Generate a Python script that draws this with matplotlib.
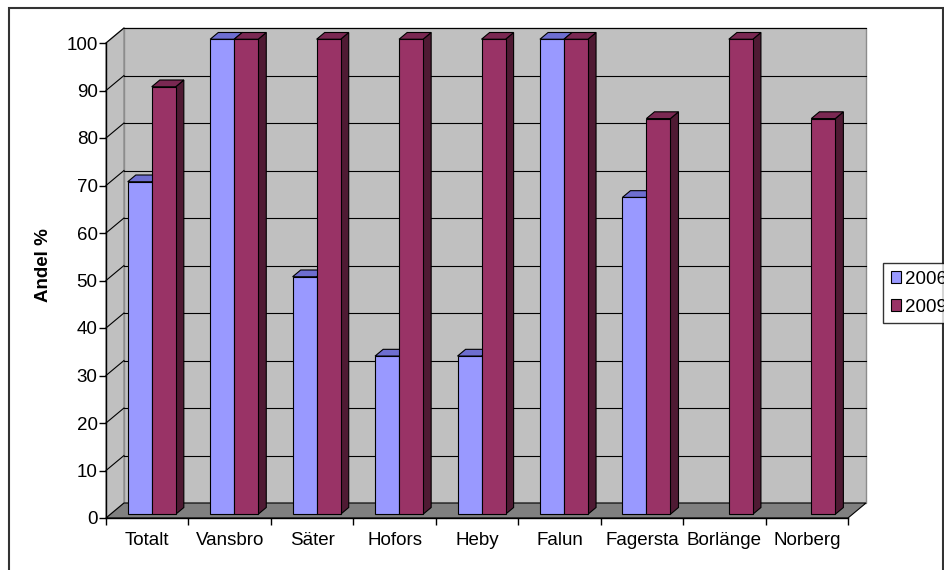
"""
Andel % per kommun, 2006 och 2009 -- Excel-style 3D column chart.
"""

import matplotlib.pyplot as plt
import numpy as np
from matplotlib.patches import Polygon, Rectangle, Patch

plt.rcParams["font.family"] = ["Liberation Sans", "DejaVu Sans"]

categories = ["Totalt", "Vansbro", "Säter", "Hofors", "Heby",
              "Falun", "Fagersta", "Borlänge", "Norberg"]
years = ["2006", "2009"]
values_2006 = [70, 100, 50, 33.3, 33.3, 100, 66.7, None, None]
values_2009 = [90, 100, 100, 100, 100, 100, 83.3, 100, 83.3]

face_cols = ["#9999FF", "#993366"]
top_cols = ["#6E6ED0", "#7A2852"]
side_cols = ["#5C5CA8", "#4F1A33"]

W, H = 944, 570
fig = plt.figure(figsize=(W / 100, H / 100), dpi=100)

# front plane of the chart, in pixels
x0, x1, y0, y1 = 106, 848, 518, 43
ax = fig.add_axes([x0 / W, 1 - y0 / H, (x1 - x0) / W, (y0 - y1) / H])
n = len(categories)
ax.set_xlim(-0.5, n - 0.5)
ax.set_ylim(0, 100)

# pixels -> data units
ux = (x1 - x0) / n
uy = (y0 - y1) / 100.0
depth_x, depth_y = 18 / ux, 15 / uy  # depth of the floor / walls

xl, xr = -0.5, n - 0.5

# walls and floor
back = Rectangle((xl + depth_x, depth_y), n, 100, facecolor="#C0C0C0",
                 edgecolor="#8C8C8C", lw=1, zorder=0, clip_on=False)
left = Polygon([(xl, 0), (xl + depth_x, depth_y), (xl + depth_x, 100 + depth_y),
                (xl, 100)], closed=True, facecolor="#C0C0C0",
               edgecolor="#8C8C8C", lw=1, zorder=0, clip_on=False)
floor = Polygon([(xl, 0), (xr, 0), (xr + depth_x, depth_y), (xl + depth_x, depth_y)],
                closed=True, facecolor="#808080", edgecolor="#000000", lw=0.8,
                zorder=1, clip_on=False)
ax.add_patch(back)
ax.add_patch(left)
ax.add_patch(floor)

for v in range(10, 101, 10):
    ax.plot([xl + depth_x, xr + depth_x], [v + depth_y, v + depth_y],
            color="black", lw=0.8, zorder=0.5, clip_on=False)
    ax.plot([xl, xl + depth_x], [v, v + depth_y],
            color="black", lw=0.8, zorder=0.5, clip_on=False)

# bars sit between 25% and 70% of the floor depth
bw = 24 / ux
fx, fy = 0.25 * depth_x, 0.25 * depth_y
bx, by = 0.70 * depth_x, 0.70 * depth_y

z = 2
for i in range(n):
    for s, vals in enumerate([values_2006, values_2009]):
        v = vals[i]
        if v is None:
            continue
        left_edge = i - bw + s * bw + fx
        right_edge = left_edge + bw
        ddx, ddy = bx - fx, by - fy
        front = Rectangle((left_edge, fy), bw, v, facecolor=face_cols[s],
                          edgecolor="black", lw=0.8, zorder=z, clip_on=False)
        top = Polygon([(left_edge, fy + v), (right_edge, fy + v),
                       (right_edge + ddx, fy + v + ddy), (left_edge + ddx, fy + v + ddy)],
                      closed=True, facecolor=top_cols[s], edgecolor="black",
                      lw=0.8, zorder=z, clip_on=False)
        side = Polygon([(right_edge, fy), (right_edge + ddx, fy + ddy),
                        (right_edge + ddx, fy + v + ddy), (right_edge, fy + v)],
                       closed=True, facecolor=side_cols[s], edgecolor="black",
                       lw=0.8, zorder=z, clip_on=False)
        ax.add_patch(side)
        ax.add_patch(top)
        ax.add_patch(front)
        z += 1

# axes
ax.set_facecolor("none")
for sp in ["top", "right"]:
    ax.spines[sp].set_visible(False)
for sp in ["left", "bottom"]:
    ax.spines[sp].set_linewidth(1)
    ax.spines[sp].set_zorder(20)

fs = 13.5
ax.set_yticks(range(0, 101, 10))
ax.tick_params(axis="y", direction="out", length=5, width=1, pad=1, labelsize=fs)
ax.set_xticks(np.arange(-0.5, n, 1.0))
ax.set_xticklabels([])
ax.tick_params(axis="x", which="major", direction="out", length=5, width=1)
ax.set_xticks(np.arange(n), minor=True)
ax.set_xticklabels(categories, minor=True)
ax.tick_params(axis="x", which="minor", length=0, pad=10, labelsize=fs)

fig.text(44 / W, 1 - 265 / H, "Andel %", rotation=90, fontsize=fs,
         fontweight="bold", ha="center", va="center")

handles = [Patch(facecolor=face_cols[k], edgecolor="black", lw=0.8) for k in range(2)]
leg = fig.legend(handles, years, loc="upper left",
                 bbox_to_anchor=(883 / W, 1 - 263 / H), fontsize=fs,
                 frameon=True, fancybox=False, handlelength=0.55, handleheight=0.55,
                 handletextpad=0.25, borderpad=0.4, labelspacing=0.6,
                 borderaxespad=0)
leg.get_frame().set_edgecolor("black")
leg.get_frame().set_linewidth(1)

# outer chart border
fig.patches.append(Rectangle((9 / W, -0.02), 934 / W, 1.02 - 8 / H,
                             transform=fig.transFigure, fill=False,
                             edgecolor="#333333", lw=1.5))

plt.savefig("out.png", dpi=100)
